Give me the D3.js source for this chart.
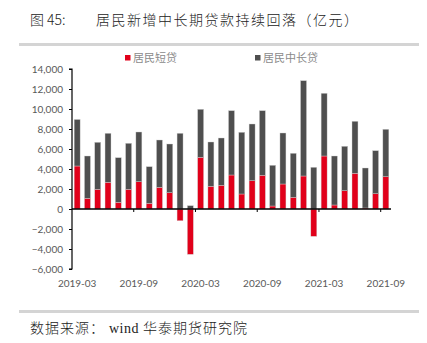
<!DOCTYPE html>
<html><head><meta charset="utf-8">
<script src="https://cdn.jsdelivr.net/npm/d3@7"></script>
<style>
body{margin:0;background:#fff;}
svg{display:block;}
</style></head>
<body>
<svg id="chart" width="427" height="343"></svg>
<script>
const months = ["2019-03","2019-04","2019-05","2019-06","2019-07","2019-08","2019-09","2019-10","2019-11","2019-12",
"2020-01","2020-02","2020-03","2020-04","2020-05","2020-06","2020-07","2020-08","2020-09","2020-10","2020-11","2020-12",
"2021-01","2021-02","2021-03","2021-04","2021-05","2021-06","2021-07","2021-08","2021-09"];
const shortLoans = [4300,1070,1970,2670,670,1970,2730,570,2170,1630,-1170,-4530,5170,2270,2370,3400,1500,2830,3370,300,2500,1170,3300,-2730,5300,400,1830,3570,100,1530,3230];
const longLoans  = [4650,4230,4700,4900,4460,4600,4970,3660,4730,4870,7570,330,4800,4430,4730,6430,6170,5670,6460,4070,5100,4400,9530,4170,6270,4900,4440,5200,4000,4300,4740];
const seriesNames = ["居民短贷","居民中长贷"];
const seriesColors = ["#E1001A","#4F4F4F"];
const yTicks = [-6000,-4000,-2000,0,2000,4000,6000,8000,10000,12000,14000];
const xLabels = ["2019-03","2019-09","2020-03","2020-09","2021-03","2021-09"];

const svg = d3.select("#chart");
const plot = {left:72, right:391, top:69, bottom:269};

const table = months.map((m,i)=>({month:m, s:shortLoans[i], l:longLoans[i]}));
const stacked = d3.stack().keys(["s","l"]).offset(d3.stackOffsetDiverging)(table);

const x = d3.scaleBand().domain(months).range([plot.left, plot.right]).paddingInner(0.42).paddingOuter(0.21);
const y = d3.scaleLinear().domain([-6000,14000]).range([plot.bottom, plot.top]);

// title
svg.append("text").attr("x",30).attr("y",25).attr("font-family","'Noto Sans CJK SC'").attr("font-size",14)
  .attr("font-weight",300).attr("fill","#222").text("图 45:");
svg.append("text").attr("x",96).attr("y",25).attr("font-family","'Noto Sans CJK SC'").attr("font-size",14)
  .attr("font-weight",300).attr("letter-spacing",1.5).attr("fill","#222").text("居民新增中长期贷款持续回落（亿元）");
svg.append("rect").attr("x",19).attr("y",43).attr("width",400).attr("height",3).attr("fill","#d4d4d4");
svg.append("rect").attr("x",19).attr("y",310).attr("width",400).attr("height",3).attr("fill","#d4d4d4");
const foot = svg.append("text").attr("x",30).attr("y",333).attr("font-family","'Noto Sans CJK SC'").attr("font-size",14)
  .attr("font-weight",300).attr("letter-spacing",1).attr("fill","#222");
foot.append("tspan").text("数据来源：");
foot.append("tspan").attr("font-family","'Liberation Serif'").attr("letter-spacing",0.5).text(" wind ");
foot.append("tspan").text("华泰期货研究院");

// legend
const legendX = [125,255];
seriesNames.forEach((n,i)=>{
  const g = svg.append("g").attr("transform",`translate(${legendX[i]},0)`);
  g.append("rect").attr("x",0).attr("y",55).attr("width",5.5).attr("height",5.5).attr("fill",seriesColors[i]);
  g.append("text").attr("x",8).attr("y",62).attr("font-family","'Noto Sans CJK SC'").attr("font-size",11)
    .attr("fill","#8a8a8a").text(n);
});

// bars
svg.append("g").selectAll("g").data(stacked).join("g")
  .attr("fill",(d,i)=>seriesColors[i])
  .selectAll("rect").data(d=>d).join("rect")
  .attr("x",d=>x(d.data.month))
  .attr("width",x.bandwidth())
  .attr("y",d=>y(Math.max(d[0],d[1])))
  .attr("height",d=>Math.abs(y(d[0])-y(d[1])))
  .attr("stroke","#d0d0d0").attr("stroke-width",0.4);

// y axis
const yAxis = svg.append("g").attr("transform",`translate(${plot.left},0)`)
  .call(d3.axisLeft(y).tickValues(yTicks).tickFormat(d3.format(",")).tickSize(3).tickPadding(6));
yAxis.select(".domain").attr("stroke","#000").attr("stroke-width",1.2).attr("d",`M-3,${plot.top}H0V${plot.bottom}H-3`);
yAxis.selectAll(".tick line").attr("stroke","#000");
yAxis.selectAll("text").attr("font-family","Lato").attr("font-size",10).attr("fill","#595959");

// zero axis line with boundary ticks
const zeroY = y(0);
const xAxis = svg.append("g").attr("transform",`translate(0,${zeroY})`);
xAxis.append("line").attr("x1",plot.left).attr("x2",plot.right).attr("y1",0).attr("y2",0)
  .attr("stroke","#000").attr("stroke-width",1.5);
const gap = x.step()*x.paddingInner();
xAxis.selectAll("line.tk").data(xLabels.slice(1)).join("line").attr("class","tk")
  .attr("x1",d=>x(d)-gap/2).attr("x2",d=>x(d)-gap/2).attr("y1",0).attr("y2",3)
  .attr("stroke","#000").attr("stroke-width",1);

// x labels at bottom
const xLab = svg.append("g").attr("transform",`translate(0,${plot.bottom})`)
  .call(d3.axisBottom(x).tickValues(xLabels).tickSize(0).tickPadding(11));
xLab.select(".domain").remove();
xLab.selectAll("text").attr("font-family","Lato").attr("font-size",10).attr("fill","#595959");
</script>
</body></html>
